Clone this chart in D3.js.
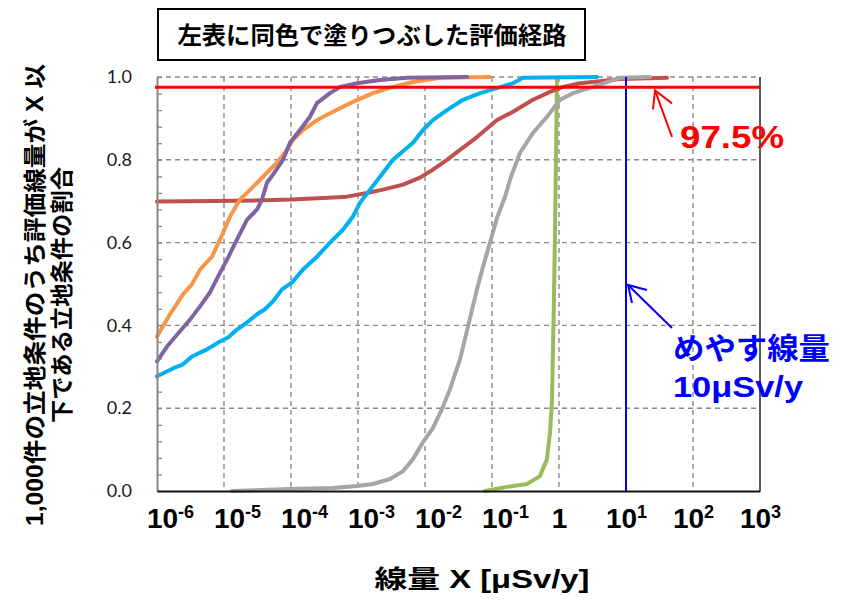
<!DOCTYPE html>
<html>
<head>
<meta charset="utf-8">
<script src="https://cdn.jsdelivr.net/npm/d3@7"></script>
<style>
  body { margin: 0; background: #fff; }
  svg { display: block; }
</style>
</head>
<body>
<svg id="chart" width="845" height="602"></svg>
<script>
// Axis ticks
const doseTicks = [1e-6, 1e-5, 1e-4, 1e-3, 1e-2, 1e-1, 1, 10, 100, 1000];
const tickExponents = ["-6", "-5", "-4", "-3", "-2", "-1", "", "1", "2", "3"];
const fractionTicks = [0, 0.2, 0.4, 0.6, 0.8, 1.0];
const fractionMinorTicks = [0, 0.04, 0.08, 0.12, 0.16, 0.2, 0.24, 0.28, 0.32, 0.36, 0.4, 0.44, 0.48,
  0.52, 0.56, 0.6, 0.64, 0.68, 0.72, 0.76, 0.8, 0.84, 0.88, 0.92, 0.96, 1.0];

// Reference levels
const percentileLevel = 0.975;   // 97.5%
const guideDose = 10;            // めやす線量 10 μSv/y

// Cumulative fraction of the 1,000 site conditions with dose <= X, per pathway
// [dose μSv/y, fraction]
const orangePath = [
  [1e-6, 0.373], [1.56e-6, 0.427], [2.44e-6, 0.475], [3.33e-6, 0.499], [4.39e-6, 0.535],
  [6.62e-6, 0.566], [8.71e-6, 0.607], [1.23e-5, 0.663], [1.73e-5, 0.704], [2.20e-5, 0.720],
  [3.82e-5, 0.759], [6.18e-5, 0.793], [8.71e-5, 0.824], [1.07e-4, 0.848], [1.51e-4, 0.872],
  [2.45e-4, 0.896], [4.24e-4, 0.916], [8.41e-4, 0.940], [1.67e-3, 0.961], [3.33e-3, 0.976],
  [6.62e-3, 0.988], [1.67e-2, 0.998], [9.33e-2, 1.0]
];
const purplePath = [
  [1e-6, 0.313], [1.41e-6, 0.349], [2.20e-6, 0.386], [3.11e-6, 0.414], [4.39e-6, 0.446],
  [6.18e-6, 0.480], [8.13e-6, 0.518], [1.11e-5, 0.559], [1.56e-5, 0.607], [2.20e-5, 0.655],
  [3.11e-5, 0.680], [3.69e-5, 0.704], [4.39e-5, 0.745], [5.38e-5, 0.764], [7.60e-5, 0.800],
  [9.66e-5, 0.841], [1.36e-4, 0.872], [1.92e-4, 0.904], [2.44e-4, 0.937], [3.82e-4, 0.961],
  [5.38e-4, 0.976], [9.66e-4, 0.985], [2.13e-3, 0.993], [5.38e-3, 0.998], [4.24e-2, 1.0]
];
const cyanPath = [
  [1e-6, 0.277], [1.73e-6, 0.296], [2.44e-6, 0.306], [3.33e-6, 0.325], [5.57e-6, 0.342],
  [8.71e-6, 0.361], [1.15e-5, 0.371], [1.56e-5, 0.390], [2.20e-5, 0.407], [3.11e-5, 0.427],
  [4.09e-5, 0.439], [5.38e-5, 0.458], [7.35e-5, 0.487], [1.04e-4, 0.504], [1.51e-4, 0.535],
  [2.44e-4, 0.566], [3.82e-4, 0.600], [5.97e-4, 0.631], [8.41e-4, 0.663], [1.07e-3, 0.696],
  [1.51e-3, 0.728], [2.13e-3, 0.759], [3.33e-3, 0.800], [6.62e-3, 0.841], [9.33e-3, 0.872],
  [1.31e-2, 0.896], [2.13e-2, 0.920], [3.69e-2, 0.945], [6.62e-2, 0.961], [1.19e-1, 0.973],
  [2.06e-1, 0.985], [2.90e-1, 0.998], [3.69, 1.0]
];
const redPath = [
  [1e-6, 0.699], [1.73e-5, 0.701], [1.04e-4, 0.704], [3.01e-4, 0.708], [6.85e-4, 0.711],
  [1.36e-3, 0.720], [2.36e-3, 0.728], [4.70e-3, 0.740], [8.41e-3, 0.757], [1.31e-2, 0.776],
  [2.13e-2, 0.800], [3.33e-2, 0.824], [5.97e-2, 0.855], [1.19e-1, 0.896], [2.06e-1, 0.916],
  [4.09e-1, 0.945], [7.35e-1, 0.964], [1.15, 0.976], [2.06, 0.985], [4.09, 0.990],
  [8.13, 0.995], [40.9, 0.998]
];
const grayPath = [
  [1.31e-5, 0.0], [9.66e-5, 0.005], [4.24e-4, 0.007], [9.66e-4, 0.012], [1.67e-3, 0.017],
  [3.01e-3, 0.029], [4.70e-3, 0.048], [6.62e-3, 0.077], [9.33e-3, 0.118], [1.31e-2, 0.152],
  [1.79e-2, 0.198], [2.36e-2, 0.246], [3.33e-2, 0.318], [4.39e-2, 0.398], [5.97e-2, 0.487],
  [7.35e-2, 0.542], [9.33e-2, 0.600], [1.19e-1, 0.660], [1.56e-1, 0.710], [1.92e-1, 0.759],
  [2.62e-1, 0.817], [4.09e-1, 0.865], [6.62e-1, 0.904], [1.04, 0.945], [1.62, 0.961],
  [3.21, 0.976], [5.77, 0.990], [8.13, 0.998], [22.8, 1.0]
];
const greenPath = [
  [7.87e-2, 0.0], [1.67e-1, 0.010], [3.33e-1, 0.017], [5.20e-1, 0.036], [6.62e-1, 0.077],
  [7.35e-1, 0.142], [7.87e-1, 0.222], [8.13e-1, 0.342], [8.41e-1, 0.463], [8.71e-1, 0.624],
  [9.02e-1, 0.800], [9.33e-1, 0.995]
];

// Drawing order (later on top) with colours
const pathways = [
  { data: greenPath,  color: "#9BBB59" },
  { data: redPath,    color: "#C0504D" },
  { data: cyanPath,   color: "#00B0F0" },
  { data: grayPath,   color: "#A5A5A5" },
  { data: orangePath, color: "#F79646" },
  { data: purplePath, color: "#8064A2" }
];

const LATIN = "'Liberation Sans', Arial, sans-serif";
const JP = "'Liberation Sans', 'Noto Sans CJK JP', sans-serif";

const svg = d3.select("#chart");
const plot = { left: 157, right: 760, top: 77, bottom: 491 };

const x = d3.scaleLog().domain([1e-6, 1e3]).range([plot.left, plot.right]);
const y = d3.scaleLinear().domain([0, 1]).range([plot.bottom, plot.top]);

// Dashed grid
const grid = svg.append("g");
grid.selectAll("line.v")
  .data(doseTicks.filter(d => d > 1e-6 && d < 1e3))
  .join("line")
  .attr("x1", d => x(d)).attr("x2", d => x(d))
  .attr("y1", plot.top).attr("y2", plot.bottom)
  .attr("stroke", "#8a8a8a").attr("stroke-width", 1.4).attr("stroke-dasharray", "5,4");
grid.selectAll("line.h")
  .data(fractionTicks.filter(d => d > 0))
  .join("line")
  .attr("x1", plot.left).attr("x2", plot.right)
  .attr("y1", d => y(d)).attr("y2", d => y(d))
  .attr("stroke", "#8a8a8a").attr("stroke-width", 1.4).attr("stroke-dasharray", "5,4");

// Right frame
svg.append("line")
  .attr("x1", plot.right).attr("x2", plot.right)
  .attr("y1", plot.top).attr("y2", plot.bottom)
  .attr("stroke", "#222").attr("stroke-width", 1.5);

// Curves
const line = d3.line().x(d => x(d[0])).y(d => y(d[1]));
svg.append("g").selectAll("path")
  .data(pathways)
  .join("path")
  .attr("d", d => line(d.data))
  .attr("fill", "none")
  .attr("stroke", d => d.color)
  .attr("stroke-width", 4)
  .attr("stroke-linejoin", "round")
  .attr("stroke-linecap", "round");

// Left axis: minor ticks pointing inward
const yMinor = svg.append("g")
  .attr("transform", `translate(${plot.left},0)`)
  .call(d3.axisLeft(y).tickValues(fractionMinorTicks).tickSize(-5).tickSizeOuter(0).tickFormat(""));
yMinor.select(".domain").attr("stroke", "#868686").attr("stroke-width", 2);
yMinor.selectAll(".tick line").attr("stroke", "#868686").attr("stroke-width", 1.3);

// Left axis labels
const yLabels = svg.append("g")
  .attr("transform", `translate(${plot.left},0)`)
  .call(d3.axisLeft(y).tickValues(fractionTicks).tickSize(0).tickPadding(25).tickFormat(d3.format(".1f")));
yLabels.select(".domain").remove();
yLabels.selectAll("text")
  .attr("font-family", "Lato, 'Open Sans', sans-serif")
  .attr("font-size", 18)
  .attr("fill", "#1a1a1a");

// Bottom axis
const xAxis = svg.append("g")
  .attr("transform", `translate(0,${plot.bottom})`)
  .call(d3.axisBottom(x).tickValues(doseTicks).tickSize(0).tickSizeOuter(0).tickFormat(""));
xAxis.select(".domain").attr("stroke", "#111").attr("stroke-width", 2);
xAxis.selectAll(".tick text")
  .attr("y", 37).attr("dy", 0)
  .attr("font-family", LATIN)
  .attr("font-weight", "bold")
  .attr("font-size", 28)
  .attr("fill", "#000")
  .attr("text-anchor", "middle")
  .attr("transform", d => `translate(${d < 1 ? 13 : 0},0)`)
  .each(function (d, i) {
    const t = d3.select(this);
    const exp = tickExponents[i];
    if (exp === "") {
      t.text("1");
    } else {
      t.append("tspan").text("10");
      t.append("tspan").attr("font-size", 18).attr("dy", -10).text(exp);
    }
  });

// Guide dose (vertical) and 97.5% level (horizontal)
svg.append("line")
  .attr("x1", x(guideDose)).attr("x2", x(guideDose))
  .attr("y1", plot.top).attr("y2", plot.bottom)
  .attr("stroke", "#0000FF").attr("stroke-width", 2);
svg.append("line")
  .attr("x1", plot.left - 2).attr("x2", plot.right)
  .attr("y1", y(percentileLevel)).attr("y2", y(percentileLevel))
  .attr("stroke", "#FF0000").attr("stroke-width", 3);

// Annotations
const red = svg.append("g").attr("stroke", "#FF0000").attr("stroke-width", 2).attr("fill", "none");
const redTip = [655, y(percentileLevel) + 3];
red.append("line").attr("x1", 672).attr("y1", 137).attr("x2", redTip[0]).attr("y2", redTip[1]);
red.append("polyline").attr("points", `653,${redTip[1] + 19} ${redTip[0]},${redTip[1]} 672,${redTip[1] + 13}`);
svg.append("text")
  .attr("x", 680).attr("y", 148)
  .attr("font-family", LATIN).attr("font-weight", "bold").attr("font-size", 32)
  .attr("fill", "#FF0000")
  .attr("textLength", 104).attr("lengthAdjust", "spacingAndGlyphs")
  .text("97.5%");

const blue = svg.append("g").attr("stroke", "#0000FF").attr("stroke-width", 2).attr("fill", "none");
blue.append("line").attr("x1", 672).attr("y1", 328).attr("x2", 628).attr("y2", 285);
blue.append("polyline").attr("points", "647,290 628,285 632,303");
svg.append("text")
  .attr("x", 673).attr("y", 359)
  .attr("font-family", JP).attr("font-weight", "bold").attr("font-size", 30)
  .attr("fill", "#0000FF")
  .attr("textLength", 157).attr("lengthAdjust", "spacingAndGlyphs")
  .text("めやす線量");
svg.append("text")
  .attr("x", 673).attr("y", 397)
  .attr("font-family", LATIN).attr("font-weight", "bold").attr("font-size", 30)
  .attr("fill", "#0000FF")
  .attr("textLength", 130).attr("lengthAdjust", "spacingAndGlyphs")
  .text("10μSv/y");

// Title box
svg.append("rect")
  .attr("x", 158).attr("y", 9).attr("width", 427).attr("height", 51)
  .attr("fill", "#fff").attr("stroke", "#000").attr("stroke-width", 2);
svg.append("text")
  .attr("x", 372).attr("y", 35)
  .attr("text-anchor", "middle").attr("dominant-baseline", "central")
  .attr("font-family", JP).attr("font-weight", "bold").attr("font-size", 24)
  .attr("textLength", 389).attr("lengthAdjust", "spacingAndGlyphs")
  .text("左表に同色で塗りつぶした評価経路");

// Axis titles
svg.append("text")
  .attr("x", 482).attr("y", 588)
  .attr("text-anchor", "middle")
  .attr("font-family", JP).attr("font-weight", "bold").attr("font-size", 25)
  .attr("textLength", 215).attr("lengthAdjust", "spacingAndGlyphs")
  .text("線量 X [μSv/y]");

const yTitle = [
  { text: "1,000件の立地条件のうち評価線量が X 以", cx: 35, len: 462 },
  { text: "下である立地条件の割合", cx: 62, len: 256 }
];
svg.selectAll("text.ytitle")
  .data(yTitle)
  .join("text")
  .attr("class", "ytitle")
  .attr("transform", d => `translate(${d.cx},295) rotate(-90)`)
  .attr("text-anchor", "middle").attr("dominant-baseline", "central")
  .attr("font-family", JP).attr("font-weight", "bold").attr("font-size", 23)
  .attr("textLength", d => d.len).attr("lengthAdjust", "spacingAndGlyphs")
  .text(d => d.text);
</script>
</body>
</html>
